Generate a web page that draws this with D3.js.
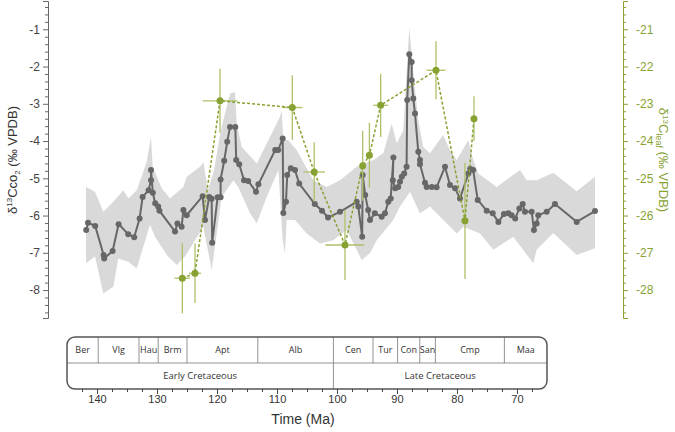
<!DOCTYPE html>
<html>
<head>
<meta charset="UTF-8">
<title>d13C Cretaceous</title>
<script src="https://d3js.org/d3.v7.min.js"></script>
<style>
  body { margin: 0; background: #fff; }
  svg text { font-family: "Liberation Sans", Arial, sans-serif; }
  .ts text { font-family: "Open Sans", "Liberation Sans", sans-serif; }
</style>
</head>
<body>
<div id="chart"></div>
<script>
// atmospheric CO2 d13C record (age in Ma, value in permil)
const co2Age = [141.8, 141.5, 140.3, 138.9, 138.8, 137.4, 136.4, 134.8, 133.8, 132.9, 132.4, 131.4, 131.0, 131.0,
  130.7, 130.3, 129.8, 129.6, 127.0, 126.6, 125.9, 125.6, 125.05, 122.4, 122.0, 121.3, 120.9, 120.8, 119.9, 119.4,
  119.4, 118.8, 118.3, 117.83, 116.95, 116.8, 116.3, 115.5, 114.8, 113.5, 113.1, 110.3, 109.8, 109.05, 108.95,
  108.5, 108.3, 107.7, 107.0, 106.3, 103.7, 102.5, 101.5, 99.5, 96.72, 96.45, 95.8, 95.72, 95.3, 94.8, 94.5,
  93.7, 92.55, 92.0, 91.45, 91.05, 90.6, 90.7, 90.3, 89.8, 89.5, 89.2, 88.8, 88.4, 88.3, 87.95, 87.55, 87.55,
  87.28, 87.0, 86.45, 86.17, 86.17, 85.33, 85.05, 84.2, 83.4, 82.0, 81.17, 80.33, 79.5, 78.1, 77.8, 77.3,
  76.55, 75.05, 74.05, 73.1, 72.17, 71.45, 70.9, 70.3, 69.6, 69.05, 68.67, 67.55, 67.17, 66.72, 66.45, 65.05,
  63.67, 60.05, 57.0];
const co2Val = [-6.39, -6.19, -6.28, -7.06, -7.15, -6.95, -6.23, -6.50, -6.58, -6.08, -5.50, -5.32, -5.05, -4.78,
  -5.39, -5.67, -5.76, -5.87, -6.43, -6.21, -6.30, -5.85, -5.99, -5.48, -6.12, -5.50, -5.55, -6.73, -5.51, -5.51,
  -5.03, -4.53, -4.02, -3.62, -3.62, -4.51, -4.62, -5.05, -5.07, -5.36, -5.16, -4.24, -4.24, -3.93, -5.93,
  -5.63, -4.91, -4.73, -4.78, -5.14, -5.69, -5.87, -6.05, -5.90, -5.63, -5.76, -6.57, -4.91, -5.45, -5.85, -6.12,
  -5.94, -6.03, -5.94, -5.63, -5.54, -4.44, -5.05, -5.27, -5.23, -5.09, -4.96, -4.87, -4.69, -2.90, -1.67, -1.88, -2.37,
  -2.86, -3.26, -4.29, -4.51, -4.62, -5.12, -5.23, -5.23, -5.24, -4.69, -5.18, -5.27, -5.54, -4.87, -4.74, -4.78,
  -5.58, -5.87, -5.94, -6.17, -5.96, -5.94, -5.99, -6.08, -5.81, -5.69, -5.90, -5.90, -6.39, -6.21, -5.99, -5.90,
  -5.69, -6.17, -5.88];

// uncertainty envelope [age, value]
const bandUpper = [[141.83, -5.23], [140.33, -5.36], [138.95, -5.90], [137.28, -5.63], [135.62, -5.32], [134.78, -5.54],
  [133.38, -5.32], [131.72, -4.56], [131.0, -3.89], [130.72, -4.69], [129.22, -5.27], [127.83, -5.54], [125.62, -5.23],
  [125.05, -4.96], [122.83, -4.69], [122.28, -4.56], [121.5, -5.32], [120.5, -4.78], [119.5, -3.84], [118.95, -3.44],
  [117.83, -2.72], [117.0, -2.68], [116.72, -3.53], [115.88, -4.16], [113.38, -4.60], [111.17, -3.89], [109.5, -3.35],
  [109.22, -3.17], [108.95, -3.98], [108.12, -3.98], [106.72, -4.24], [103.95, -5.05], [101.72, -5.23], [99.5, -5.05],
  [96.72, -4.69], [93.95, -4.51], [92.28, -4.33], [90.88, -3.53], [90.05, -4.06], [88.95, -3.71], [87.95, -0.94],
  [87.28, -2.19], [86.45, -3.44], [85.62, -4.16], [84.5, -4.33], [82.33, -3.84], [81.17, -4.24], [80.05, -4.51],
  [78.12, -3.98], [77.28, -4.51], [76.45, -4.87], [73.38, -5.23], [69.5, -4.78], [68.38, -5.05], [66.72, -5.05],
  [63.95, -4.85], [60.05, -5.35], [57.0, -4.96]];
const bandLower = [[141.83, -7.28], [140.33, -7.10], [138.95, -8.09], [137.28, -7.91], [136.45, -7.15], [134.78, -7.24],
  [133.38, -7.42], [131.17, -6.25], [130.33, -6.57], [128.38, -7.06], [126.72, -7.33], [125.33, -7.10], [122.28, -6.30],
  [120.88, -7.46], [120.05, -6.48], [119.22, -5.50], [117.28, -5.05], [116.45, -5.23], [114.5, -5.94], [113.38, -6.21],
  [111.72, -5.50], [109.78, -4.78], [109.05, -6.66], [108.67, -7.01], [108.38, -6.12], [107.0, -6.12], [105.05, -6.48],
  [102.83, -6.75], [100.62, -6.66], [98.38, -6.39], [95.88, -7.19], [94.5, -7.01], [93.38, -6.66], [90.62, -6.12],
  [89.5, -5.76], [87.83, -5.37], [86.17, -5.94], [84.5, -5.76], [82.28, -6.12], [80.05, -6.48], [78.95, -6.30],
  [76.17, -6.48], [73.95, -6.92], [70.62, -6.57], [67.28, -7.28], [66.72, -6.92], [63.95, -6.47], [60.05, -7.06],
  [57.0, -6.88]];

// leaf d13C (right axis)
const leafAge = [125.78, 123.67, 119.5, 107.45, 103.8, 98.67, 95.72, 94.6, 92.72, 83.5, 78.67, 77.17];
const leafVal = [-27.68, -27.55, -22.92, -23.10, -24.83, -26.79, -24.66, -24.38, -23.04, -22.10, -26.14, -23.40];
const leafAgeErr = [1.3, 1.0, 2.9, 1.7, 1.8, 3.25, 0, 0, 1.25, 1.6, 0, 0];
const leafValErr = [0.94, 0.8, 0.86, 0.87, 0.8, 0.94, 0.94, 0.87, 0.85, 0.78, 1.56, 0.6];

// geologic time scale
const stageNames = ["Ber", "Vlg", "Hau", "Brm", "Apt", "Alb", "Cen", "Tur", "Con", "San", "Cmp", "Maa"];
const stageBounds = [145, 139.8, 133.0, 129.8, 125.0, 113.2, 100.6, 94.0, 89.9, 86.2, 83.6, 72.1, 65];
const epochNames = ["Early Cretaceous", "Late Cretaceous"];
const epochBounds = [145, 100.6, 65];
const timeTicks = [140, 130, 120, 110, 100, 90, 80, 70];
const co2Ticks = [-8, -7, -6, -5, -4, -3, -2, -1];
const leafTicks = [-28, -27, -26, -25, -24, -23, -22, -21];

const W = 675, H = 432;
const grey = "#676767", olive = "#87a233", oliveLight = "#aec06a";
const hyphen = d => String(d).replace("−", "-");

const svg = d3.select("#chart").append("svg").attr("width", W).attr("height", H);

const x = d3.scaleLinear().domain([148.17, 52.33]).range([48, 623]);
const y = d3.scaleLinear().domain([-8.75, -0.24]).range([318, 1]);
const yR = d3.scaleLinear().domain([-28.75, -20.24]).range([318, 1]);

// envelope
const bandPts = bandUpper.concat(bandLower.slice().reverse());
svg.append("path")
   .attr("d", d3.line().x(d => x(d[0])).y(d => y(d[1]))(bandPts) + "Z")
   .attr("fill", "#d9d9d9");

// co2 line and dots
const co2 = co2Age.map((a, i) => ({age: a, val: co2Val[i]}));
svg.append("path")
   .datum(co2)
   .attr("d", d3.line().x(d => x(d.age)).y(d => y(d.val)))
   .attr("fill", "none").attr("stroke", grey).attr("stroke-width", 2);
svg.selectAll(".co2dot").data(co2).enter().append("circle")
   .attr("cx", d => x(d.age)).attr("cy", d => y(d.val)).attr("r", 3)
   .attr("fill", grey);

// leaf data: error bars, dashed line, dots
const leaf = leafAge.map((a, i) => ({age: a, val: leafVal[i], ex: leafAgeErr[i], ey: leafValErr[i]}));
const eb = svg.append("g").attr("stroke", oliveLight).attr("stroke-width", 1.3);
eb.selectAll(".ev").data(leaf).enter().append("line")
  .attr("x1", d => x(d.age)).attr("x2", d => x(d.age))
  .attr("y1", d => yR(d.val - d.ey)).attr("y2", d => yR(d.val + d.ey));
eb.selectAll(".eh").data(leaf.filter(d => d.ex > 0)).enter().append("line")
  .attr("x1", d => x(d.age + d.ex)).attr("x2", d => x(d.age - d.ex))
  .attr("y1", d => yR(d.val)).attr("y2", d => yR(d.val));
svg.append("path")
   .datum(leaf)
   .attr("d", d3.line().x(d => x(d.age)).y(d => yR(d.val)))
   .attr("fill", "none").attr("stroke", olive).attr("stroke-width", 1.5)
   .attr("stroke-dasharray", "3,2");
svg.selectAll(".leafdot").data(leaf).enter().append("circle")
   .attr("cx", d => x(d.age)).attr("cy", d => yR(d.val)).attr("r", 3.5)
   .attr("fill", olive);

// left axis
const minorL = d3.range(-8.6, -0.3, 0.2).filter(v => Math.abs(v - Math.round(v)) > 0.05);
const gL = svg.append("g").attr("transform", "translate(48,0)");
gL.call(d3.axisLeft(y).tickValues(co2Ticks).tickFormat(hyphen).tickSize(5).tickSizeOuter(5).tickPadding(3));
gL.append("g").call(d3.axisLeft(y).tickValues(minorL).tickFormat("").tickSize(3)).select(".domain").remove();
gL.selectAll("line, path").attr("stroke", "#666");
gL.selectAll("text").attr("fill", "#444").style("font-size", "12px");

// right axis
const minorR = minorL.map(v => v - 20);
const gR = svg.append("g").attr("transform", "translate(623,0)");
gR.call(d3.axisRight(yR).tickValues(leafTicks).tickFormat(hyphen).tickSize(5).tickSizeOuter(5).tickPadding(8));
gR.append("g").call(d3.axisRight(yR).tickValues(minorR).tickFormat("").tickSize(3)).select(".domain").remove();
gR.selectAll("line, path").attr("stroke", olive);
gR.selectAll("text").attr("fill", olive).style("font-size", "12px");

// axis titles
const tL = svg.append("text").attr("transform", "translate(17,160) rotate(-90)")
  .attr("text-anchor", "middle").attr("fill", "#333").style("font-size", "13px");
tL.append("tspan").text("δ");
tL.append("tspan").attr("dy", -5).style("font-size", "8px").text("13");
tL.append("tspan").attr("dy", 5).text("Cco");
tL.append("tspan").attr("dy", 3).style("font-size", "8px").text("2");
tL.append("tspan").attr("dy", -3).text(" (‰ VPDB)");

const tR = svg.append("text").attr("transform", "translate(659,160) rotate(90)")
  .attr("text-anchor", "middle").attr("fill", olive).style("font-size", "13px");
tR.append("tspan").text("δ");
tR.append("tspan").attr("dy", -4).style("font-size", "8px").text("13");
tR.append("tspan").attr("dy", 4).text("C");
tR.append("tspan").attr("dy", 3).style("font-size", "9px").text("leaf");
tR.append("tspan").attr("dy", -3).text(" (‰ VPDB)");

// time scale box
const ts = svg.append("g").attr("class", "ts");
const boxTop = 337, boxMid = 363, boxBot = 389;
ts.selectAll(".sb").data(stageBounds.slice(1, -1)).enter().append("line")
  .attr("x1", d => x(d)).attr("x2", d => x(d))
  .attr("y1", boxTop).attr("y2", d => d === epochBounds[1] ? boxBot : boxMid)
  .attr("stroke", "#777").attr("stroke-width", 0.8);
ts.append("line").attr("x1", x(145)).attr("x2", x(65)).attr("y1", boxMid).attr("y2", boxMid)
  .attr("stroke", "#777").attr("stroke-width", 0.8);
ts.append("rect").attr("x", x(145)).attr("y", boxTop)
  .attr("width", x(65) - x(145)).attr("height", boxBot - boxTop)
  .attr("rx", 8).attr("fill", "none").attr("stroke", "#555").attr("stroke-width", 1.5);
ts.selectAll(".sn").data(stageNames).enter().append("text")
  .attr("x", (d, i) => (x(stageBounds[i]) + x(stageBounds[i + 1])) / 2)
  .attr("y", 353).attr("text-anchor", "middle").attr("fill", "#333")
  .style("font-size", "9px").text(d => d);
ts.selectAll(".en").data(epochNames).enter().append("text")
  .attr("x", (d, i) => (x(epochBounds[i]) + x(epochBounds[i + 1])) / 2)
  .attr("y", 379).attr("text-anchor", "middle").attr("fill", "#333")
  .style("font-size", "9.5px").text(d => d);

// time axis
const minorT = d3.range(67.5, 145, 2.5).filter(v => v % 10 !== 0);
const gT = svg.append("g").attr("transform", `translate(0,${boxBot})`);
gT.call(d3.axisBottom(x).tickValues(timeTicks).tickFormat(d3.format("d")).tickSize(5).tickSizeOuter(0).tickPadding(1));
gT.append("g").call(d3.axisBottom(x).tickValues(minorT).tickFormat("").tickSize(3)).select(".domain").remove();
gT.select(".domain").remove();
gT.selectAll("line").attr("stroke", "#444");
gT.selectAll("text").attr("fill", "#333").style("font-size", "11px");

svg.append("text").attr("x", 303).attr("y", 424).attr("text-anchor", "middle")
   .attr("fill", "#333").style("font-size", "14px").text("Time (Ma)");
</script>
</body>
</html>
